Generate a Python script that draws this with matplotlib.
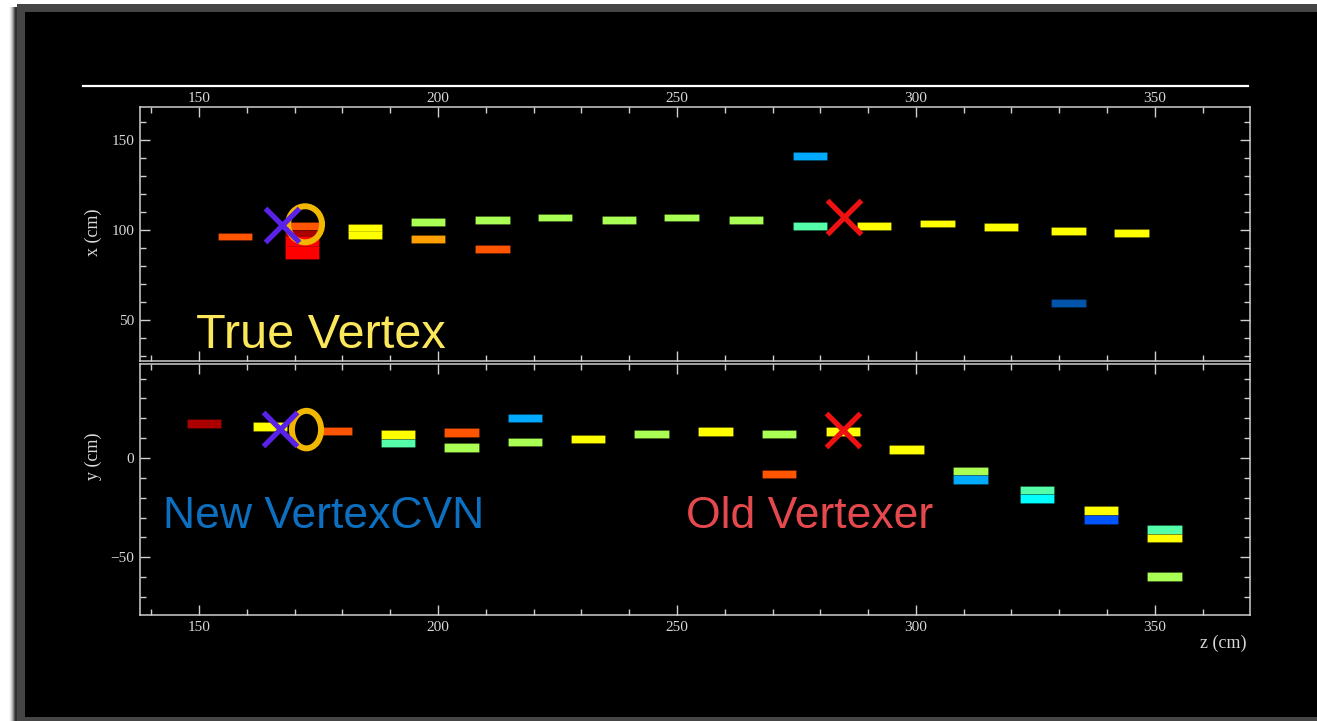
import matplotlib.pyplot as plt
from matplotlib.patches import Rectangle, Ellipse
from matplotlib.lines import Line2D
from matplotlib.ticker import MultipleLocator

W, H = 1317, 721

# event display palette
pal = {
    "darkred": "#aa0000",
    "red": "#ff0000",
    "orangered": "#ff5500",
    "orange": "#ffa000",
    "yellow": "#ffff00",
    "greenyellow": "#aaff55",
    "aqua": "#55ffaa",
    "cyan": "#00ffff",
    "skyblue": "#00aaff",
    "blue": "#0055ff",
    "darkblue": "#0055aa",
}

# top view: hit z (cm), x (cm), colour
top_z = [157.5, 171.5, 171.5, 171.5, 171.5, 184.7, 184.7, 197.9, 197.9,
         211.4, 211.4, 224.5, 237.9, 251.0, 264.4, 277.8, 277.8, 291.2, 304.5,
         317.8, 331.9, 331.9, 345.1]
top_x = [96.5, 102.5, 98.2, 93.4, 87.6, 101.4, 97.5, 104.4, 95.2,
         105.7, 89.8, 107.1, 105.8, 107.1, 105.8, 141.0, 102.2, 102.5, 103.8,
         101.7, 99.7, 59.7, 98.4]
top_c = ["orangered", "orangered", "darkred", "red", "red", "yellow", "yellow",
         "greenyellow", "orange", "greenyellow", "orangered", "greenyellow",
         "greenyellow", "greenyellow", "greenyellow", "skyblue", "aqua", "yellow",
         "yellow", "yellow", "yellow", "darkblue", "yellow"]

# side view: hit z (cm), y (cm), colour
bot_z = [151.1, 164.9, 178.5, 191.6, 191.6, 204.9, 204.9, 218.2, 218.2, 231.4,
         244.7, 258.1, 271.4, 271.4, 284.7, 298.0, 311.4, 311.4, 325.3, 325.3,
         338.7, 338.7, 352.0, 352.0, 352.0]
bot_y = [17.3, 15.9, 13.5, 11.9, 7.6, 12.9, 5.3, 20.2, 8.0, 9.5,
         12.2, 13.4, 12.2, -8.0, 13.3, 4.2, -6.6, -10.8, -16.2, -20.4,
         -26.5, -31.0, -36.0, -40.2, -59.7]
bot_c = ["darkred", "yellow", "orangered", "yellow", "aqua", "orangered",
         "greenyellow", "skyblue", "greenyellow", "yellow", "greenyellow", "yellow",
         "greenyellow", "orangered", "yellow", "yellow", "greenyellow", "skyblue",
         "aqua", "cyan", "yellow", "blue", "aqua", "yellow", "greenyellow"]

# vertices: [top view, side view]
true_z = [172.2, 172.5]
true_t = [103.3, 14.3]
cvn_z = [167.3, 167.0]
cvn_t = [102.9, 14.7]
old_z = [284.9, 284.7]
old_t = [107.4, 13.9]

cell_w = 7.2
cell_h = 4.3

plt.rcParams["font.family"] = ["Liberation Serif", "DejaVu Serif"]
fig = plt.figure(figsize=(W / 100, H / 100), dpi=100, facecolor="white")


def fx(px):
    return px / W


def fy(py):
    return 1 - py / H


# slide frame with a soft shadow on the left
for i, a in enumerate([0.03, 0.06, 0.1, 0.16, 0.24, 0.34, 0.46]):
    fig.add_artist(Rectangle((fx(9 + i), 0), fx(9), fy(7), transform=fig.transFigure,
                             facecolor="black", alpha=a, edgecolor="none", zorder=0))
fig.add_artist(Rectangle((fx(17), 0), 1, fy(4), transform=fig.transFigure,
                         facecolor="#454545", edgecolor="none", zorder=0))
fig.add_artist(Rectangle((fx(25), fy(717)), 1, fy(12) - fy(717), transform=fig.transFigure,
                         facecolor="black", edgecolor="none", zorder=0))
fig.add_artist(Line2D([fx(83), fx(1248)], [fy(86), fy(86)], transform=fig.transFigure,
                      color="white", lw=1.6))

edge = "#cfcfcf"
ax1 = fig.add_axes([fx(139.7), fy(361), fx(1250) - fx(139.7), fy(106.7) - fy(361)])
ax2 = fig.add_axes([fx(139.7), fy(615), fx(1250) - fx(139.7), fy(363.5) - fy(615)])


def style_axes(ax, ylim, top_labels):
    ax.set_facecolor("black")
    ax.set_xlim(137.6, 369.9)
    ax.set_ylim(*ylim)
    ax.xaxis.set_major_locator(MultipleLocator(50))
    ax.xaxis.set_minor_locator(MultipleLocator(10))
    ax.yaxis.set_major_locator(MultipleLocator(50))
    ax.yaxis.set_minor_locator(MultipleLocator(10))
    ax.tick_params(which="both", direction="in", top=True, right=True,
                   color=edge, labelcolor="#d8d8d8", labelsize=11, width=1)
    ax.tick_params(which="major", length=7.5)
    ax.tick_params(which="minor", length=4)
    ax.tick_params(axis="x", labeltop=top_labels, labelbottom=not top_labels,
                   pad=1 if top_labels else 4)
    ax.tick_params(axis="y", pad=4)
    for s in ax.spines.values():
        s.set_color(edge)
        s.set_linewidth(1.1)


style_axes(ax1, (27.5, 168.5), True)
style_axes(ax2, (-79.1, 47.6), False)

for ax, zs, vs, cs, k in [(ax1, top_z, top_x, top_c, 0), (ax2, bot_z, bot_y, bot_c, 1)]:
    # the tall red cell in the top view covers two planes' worth of height
    hs = [cell_h * 1.6 if (k == 0 and c == "red") else cell_h for c in cs]
    ax.bar(zs, hs, bottom=[v - h / 2 for v, h in zip(vs, hs)], width=cell_w,
           color=[pal[c] for c in cs], edgecolor="#00000040", linewidth=0.5, zorder=2)
    ring_w, ring_h = (7.1, 20.0) if k == 0 else (6.1, 18.9)
    ax.add_patch(Ellipse((true_z[k], true_t[k]), ring_w, ring_h, facecolor="none",
                         edgecolor="#f2b800", lw=4.3, zorder=3))
    ax.plot(cvn_z[k], cvn_t[k], marker="x", ms=24, mew=3.8, color="#5a22e8", zorder=4)
    ax.plot(old_z[k], old_t[k], marker="x", ms=24, mew=3.8, color="#ee1111", zorder=4)

# axis titles
fig.text(fx(93.5), fy(232.5), "x (cm)", rotation=90, ha="center", va="center",
         color="#d8d8d8", fontsize=13)
fig.text(fx(93.5), fy(456), "y (cm)", rotation=90, ha="center", va="center",
         color="#d8d8d8", fontsize=13)
fig.text(fx(1247), fy(643), "z (cm)", ha="right", va="center",
         color="#d8d8d8", fontsize=13)

# annotations
sans = ["Liberation Sans", "DejaVu Sans"]
fig.text(fx(196), fy(348.5), "True Vertex", color="#fbe75a", fontsize=35,
         family=sans, ha="left", va="baseline")
fig.text(fx(163), fy(528), "New VertexCVN", color="#0d6fc0", fontsize=32,
         family=sans, ha="left", va="baseline")
fig.text(fx(686), fy(528), "Old Vertexer", color="#e5484d", fontsize=32,
         family=sans, ha="left", va="baseline")

fig.savefig("out.png", dpi=100, facecolor=fig.get_facecolor())
